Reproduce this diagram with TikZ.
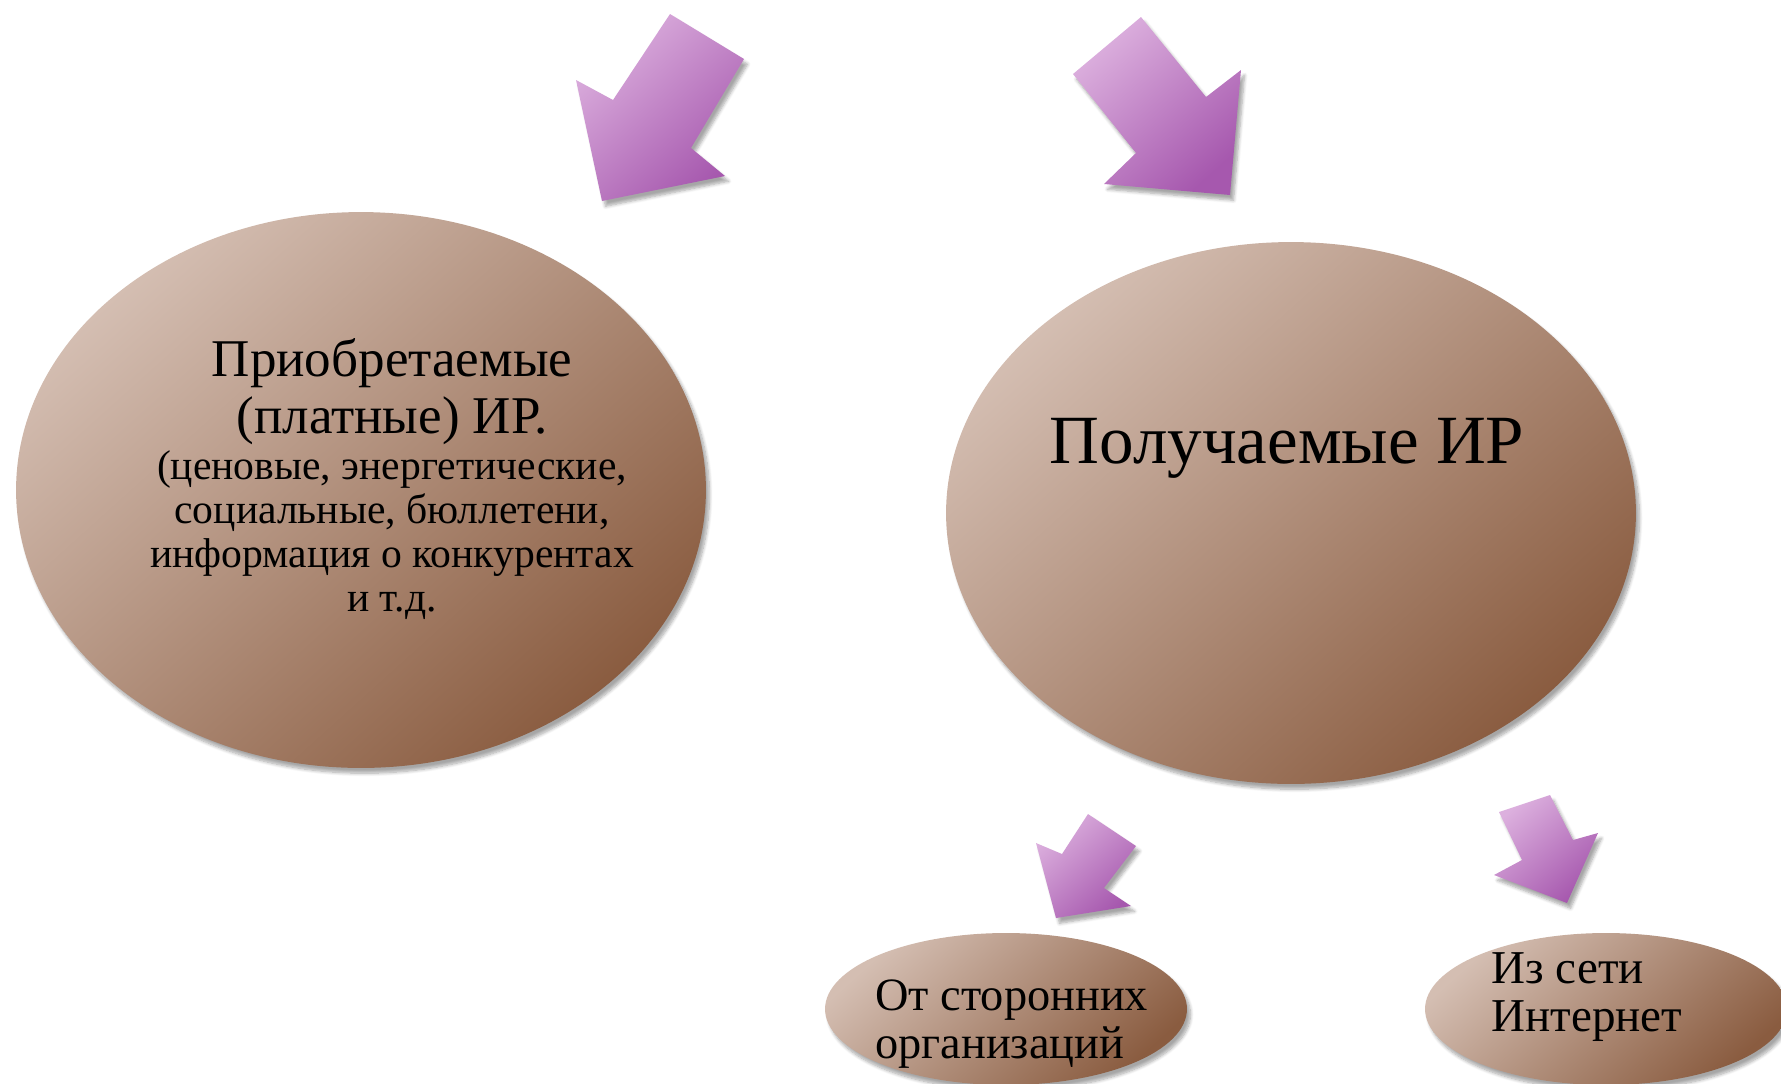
\documentclass[tikz,border=0pt]{standalone}
\usepackage{fontspec}
\setmainfont{Liberation Serif}
\usetikzlibrary{shapes.geometric,shadows.blur,positioning}
\definecolor{irlight}{RGB}{212,190,178}
\definecolor{irdark}{RGB}{138,92,64}
\definecolor{pflight}{RGB}{220,176,222}
\definecolor{pfdark}{RGB}{166,88,174}
\tikzset{
  quelle/.style={ellipse,inner sep=0pt,left color=irlight,right color=irdark,shading angle=42,
    blur shadow={shadow xshift=2pt,shadow yshift=-3pt,shadow opacity=35,shadow blur steps=8}},
  pfeil/.style={left color=pflight,right color=pfdark,shading angle=42,
    blur shadow={shadow xshift=2pt,shadow yshift=-3pt,shadow opacity=35,shadow blur steps=6}},
  beschr/.style={inner sep=0pt,text=black}
}
\begin{document}
\begin{tikzpicture}
    \def\x{0.02}
    \def\y{-0.02}
    \useasboundingbox (0*\x, 0*\y) rectangle (1781*\x, 1083*\y);
    % ellipses
    \node[quelle,minimum width=13.8cm,minimum height=11.12cm] (E0_0) at (361*\x, 490*\y) {};
    \node[quelle,minimum width=13.8cm,minimum height=10.84cm] (E0_1) at (1291*\x, 513*\y) {};
    \node[quelle,minimum width=7.24cm,minimum height=3.04cm] (E1_0) at (1006*\x, 1009*\y) {};
    \node[quelle,minimum width=7.24cm,minimum height=3.04cm] (E1_1) at (1606*\x, 1009*\y) {};
    % texts
    \node[beschr,anchor=north,align=center,font=\fontsize{30.2}{32.4}\selectfont] (T0_0) at (392*\x, 338*\y)
      {Приобретаемые\\(платные) ИР.};
    \node[beschr,below=1mm of T0_0,align=center,font=\fontsize{23.7}{25.2}\selectfont] (T0_1)
      {(ценовые, энергетические,\\социальные, бюллетени,\\информация о конкурентах\\и т.д.};
    \node[beschr,anchor=base,font=\fontsize{39.3}{41}\selectfont] (T1_0) at (1287*\x, 463*\y) {Получаемые ИР};
    \node[beschr,anchor=north west,align=left,font=\fontsize{26.4}{27.3}\selectfont] (T2_0) at (875*\x, 979*\y)
      {От сторонних\\организаций};
    \node[beschr,anchor=north west,align=left,font=\fontsize{26.8}{27.3}\selectfont] (T2_1) at (1491*\x, 952*\y)
      {Из сети\\Интернет};
    % arrows
    \path[pfeil] (670*\x, 14*\y) -- (744*\x, 59*\y) -- (691*\x, 148*\y) -- (725*\x, 176*\y)
      -- (602*\x, 201*\y) -- (576*\x, 80*\y) -- (613*\x, 100*\y) -- cycle;
    \path[pfeil] (1073*\x, 74*\y) -- (1141*\x, 17*\y) -- (1206*\x, 97*\y) -- (1241*\x, 70*\y)
      -- (1230*\x, 195*\y) -- (1104*\x, 184*\y) -- (1136*\x, 153*\y) -- cycle;
    \path[pfeil] (1088*\x, 814*\y) -- (1136*\x, 846*\y) -- (1104*\x, 888*\y) -- (1131*\x, 906*\y)
      -- (1056*\x, 918*\y) -- (1036*\x, 843*\y) -- (1062*\x, 854*\y) -- cycle;
    \path[pfeil] (1499*\x, 812*\y) -- (1550*\x, 795*\y) -- (1573*\x, 840*\y) -- (1598*\x, 833*\y)
      -- (1567*\x, 903*\y) -- (1494*\x, 875*\y) -- (1522*\x, 860*\y) -- cycle;
\end{tikzpicture}
\end{document}
